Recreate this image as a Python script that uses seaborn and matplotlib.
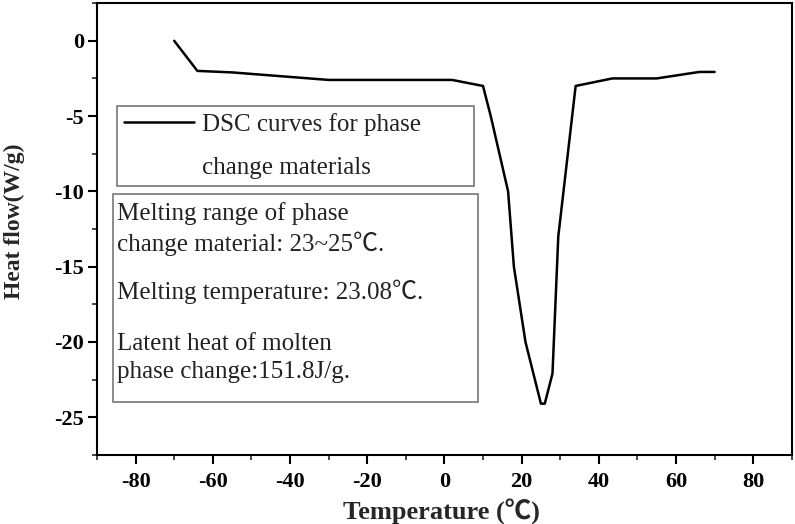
import pandas as pd
import seaborn as sns
import matplotlib.pyplot as plt
from matplotlib.lines import Line2D
from matplotlib.patches import Rectangle

# DSC curve
temperature = [-70, -64, -55, -45, -35, -30, -10, 2, 10, 12, 16.5, 18, 21, 25, 26, 28, 29.5, 34, 43.5, 55, 66, 70]
heat_flow = [0, -2.0, -2.1, -2.3, -2.5, -2.6, -2.6, -2.6, -3.0, -5.0, -10.0, -15.0, -20.0, -24.1, -24.1, -22.1, -13.0, -3.0, -2.5, -2.5, -2.07, -2.07]

legend_lines = ["DSC curves for phase", "change materials"]
info_lines = ["Melting range of phase", "change material: 23~25\u2103.",
              "Melting temperature: 23.08\u2103.",
              "Latent heat of molten", "phase change:151.8J/g."]

dsc = pd.DataFrame({"T": temperature, "HF": heat_flow})

sns.set_style("ticks")
fonts = ["Liberation Serif", "Noto Sans CJK SC", "DejaVu Serif"]
plt.rcParams["font.family"] = fonts
plt.rcParams["axes.unicode_minus"] = False

fig = plt.figure(figsize=(7.95, 5.24), dpi=100)
ax = fig.add_axes([0.122, 0.132, 0.874, 0.862])

sns.lineplot(data=dsc, x="T", y="HF", color="black", linewidth=1.8, ax=ax, sort=False)

ax.set_xlim(-90, 90)
ax.set_ylim(-27.5, 2.5)
ax.set_xticks(range(-80, 81, 20))
ax.set_yticks([0, -5, -10, -15, -20, -25])
ax.set_xticks(range(-90, 91, 10), minor=True)
ax.set_yticks([v / 2 for v in range(-55, 6, 5)], minor=True)
ax.tick_params(which="major", direction="out", length=6.5, width=1.5, labelsize=16, colors="black")
ax.tick_params(axis="x", which="major", pad=6)
ax.tick_params(axis="y", which="major", pad=3)
ax.tick_params(which="minor", direction="out", length=3.5, width=1.2)
for lab in ax.get_xticklabels() + ax.get_yticklabels():
    lab.set_fontweight("bold")
for sp in ax.spines.values():
    sp.set_linewidth(1.5)
    sp.set_color("black")

ax.set_xlabel("Temperature (\u2103)", fontsize=19, fontweight="bold")
ax.set_ylabel("Heat flow(W/g)", fontsize=17, fontweight="bold")
ax.xaxis.set_label_coords(0.496, -0.097)
ax.yaxis.set_label_coords(-0.104, 0.518)

# legend box
handles = [Line2D([0], [0], color="black", linewidth=1.8),
           Line2D([0], [0], color="none")]
leg = ax.legend(handles, legend_lines,
                loc="upper left", bbox_to_anchor=(0.029, 0.772, 0.514, 0.0),
                mode="expand", borderaxespad=0,
                fancybox=False, edgecolor="#777777", framealpha=1,
                prop={"family": fonts, "size": 18}, handlelength=2.8,
                handletextpad=0.3, labelspacing=0.8, borderpad=0.28)
leg.get_frame().set_linewidth(1.2)
for t in leg.get_texts():
    t.set_color("#222222")

# info box
ax.add_patch(Rectangle((0.0230, 0.117), 0.525, 0.460, transform=ax.transAxes,
                       fill=False, edgecolor="#777777", linewidth=1.2))
ys = [0.534, 0.467, 0.361, 0.246, 0.184]
for y, s in zip(ys, info_lines):
    ax.text(0.029, y, s, transform=ax.transAxes, fontsize=18, va="center",
            ha="left", color="#222222", family=fonts)

fig.savefig("out.png", dpi=100)
